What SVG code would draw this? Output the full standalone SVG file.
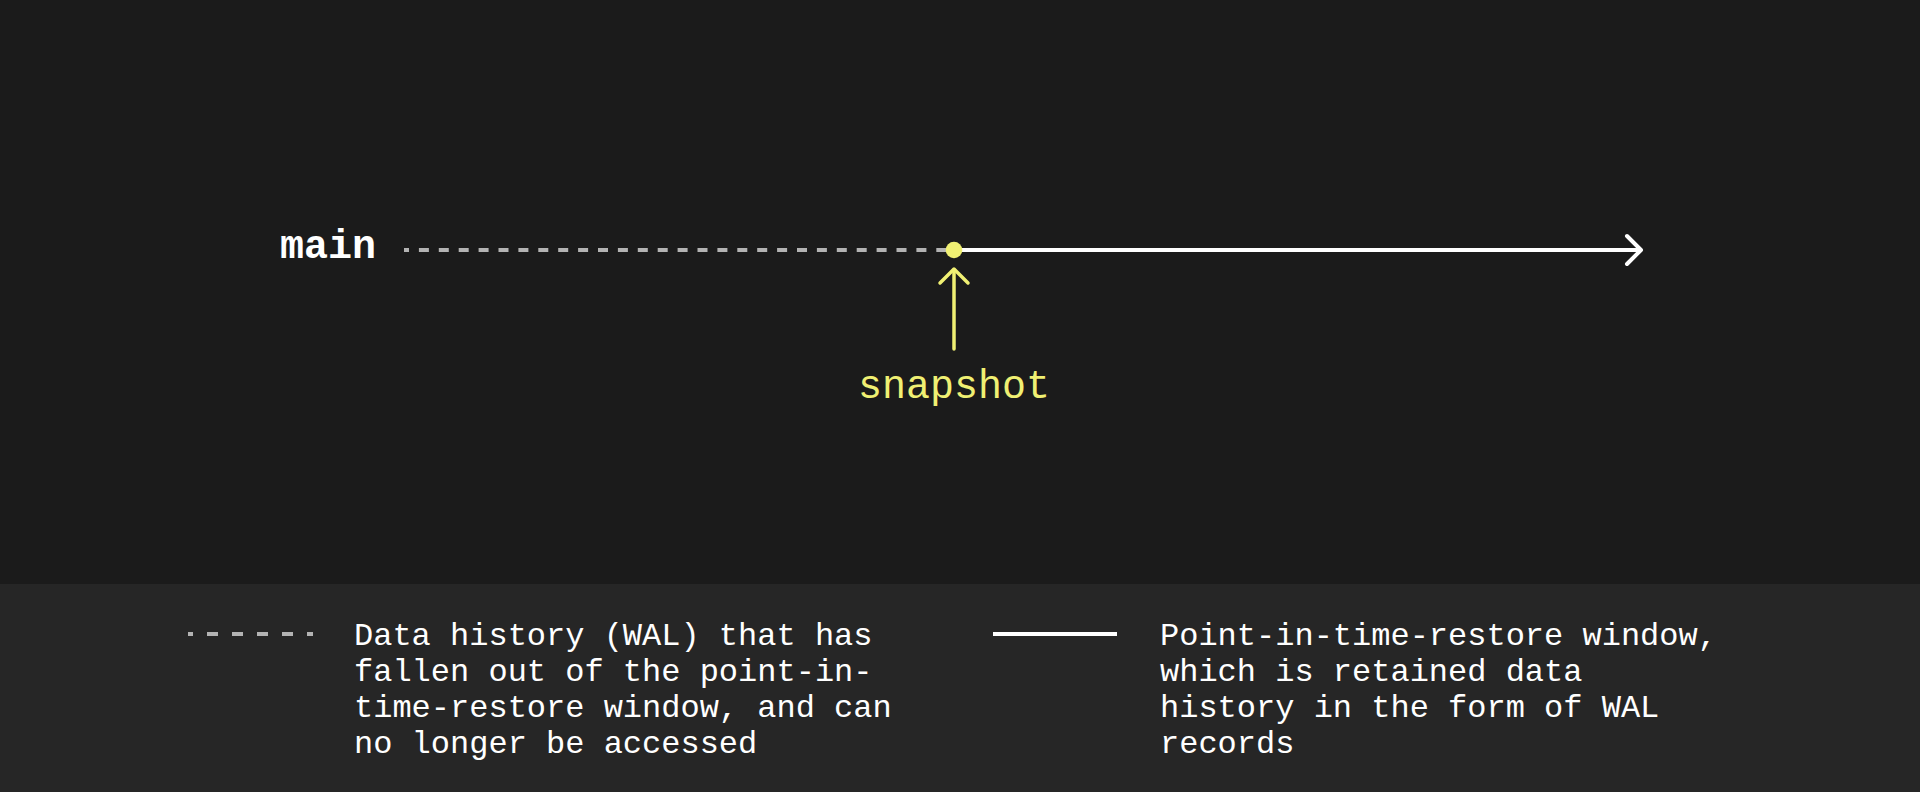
<svg xmlns="http://www.w3.org/2000/svg" width="1920" height="792" viewBox="0 0 1920 792">
<style>
  .mono { font-family: "Liberation Mono", "DejaVu Sans Mono", monospace; }
  .legend-text { font-size: 32px; fill: #ffffff; }
  .yellow-stroke { stroke: #f0f073; fill: none; stroke-width: 3.5; stroke-linecap: round; stroke-linejoin: round; }
  .white-stroke { stroke: #ffffff; fill: none; stroke-width: 4; stroke-linecap: round; stroke-linejoin: round; }
  .gray-dash { stroke: #b3b3b3; fill: none; stroke-width: 4; }
</style>
<rect x="0" y="0" width="1920" height="792" fill="#1b1b1b"/>
<rect x="0" y="584" width="1920" height="208" fill="#262626"/>

<g id="connectors">
  <line class="gray-dash" x1="404" y1="250" x2="947" y2="250" stroke-dasharray="10 9.9" stroke-dashoffset="5"/>
  <line class="white-stroke" x1="954" y1="250" x2="1640" y2="250" stroke-linecap="butt"/>
  <polyline class="white-stroke" points="1627,236 1641,250 1627,264"/>
  <line class="yellow-stroke" x1="954" y1="349" x2="954" y2="270"/>
  <polyline class="yellow-stroke" points="940,283 954,269 968,283"/>
</g>

<g id="main-label">
  <text class="mono" x="280" y="258" font-size="40" font-weight="bold" fill="#ffffff">main</text>
</g>

<g id="snapshot">
  <circle cx="954" cy="250" r="8.3" fill="#f0f073"/>
  <text class="mono" x="954" y="398" font-size="40" fill="#f0f073" text-anchor="middle">snapshot</text>
</g>

<g id="legend-dashed">
  <line class="gray-dash" x1="188" y1="634" x2="313" y2="634" stroke-dasharray="11 14" stroke-dashoffset="6"/>
  <text class="mono legend-text">
    <tspan x="354" y="645">Data history (WAL) that has</tspan>
    <tspan x="354" y="681">fallen out of the point-in-</tspan>
    <tspan x="354" y="717">time-restore window, and can</tspan>
    <tspan x="354" y="753">no longer be accessed</tspan>
  </text>
</g>

<g id="legend-solid">
  <line x1="993" y1="634" x2="1117" y2="634" stroke="#ffffff" stroke-width="4"/>
  <text class="mono legend-text">
    <tspan x="1160" y="645">Point-in-time-restore window,</tspan>
    <tspan x="1160" y="681">which is retained data</tspan>
    <tspan x="1160" y="717">history in the form of WAL</tspan>
    <tspan x="1160" y="753">records</tspan>
  </text>
</g>
</svg>
